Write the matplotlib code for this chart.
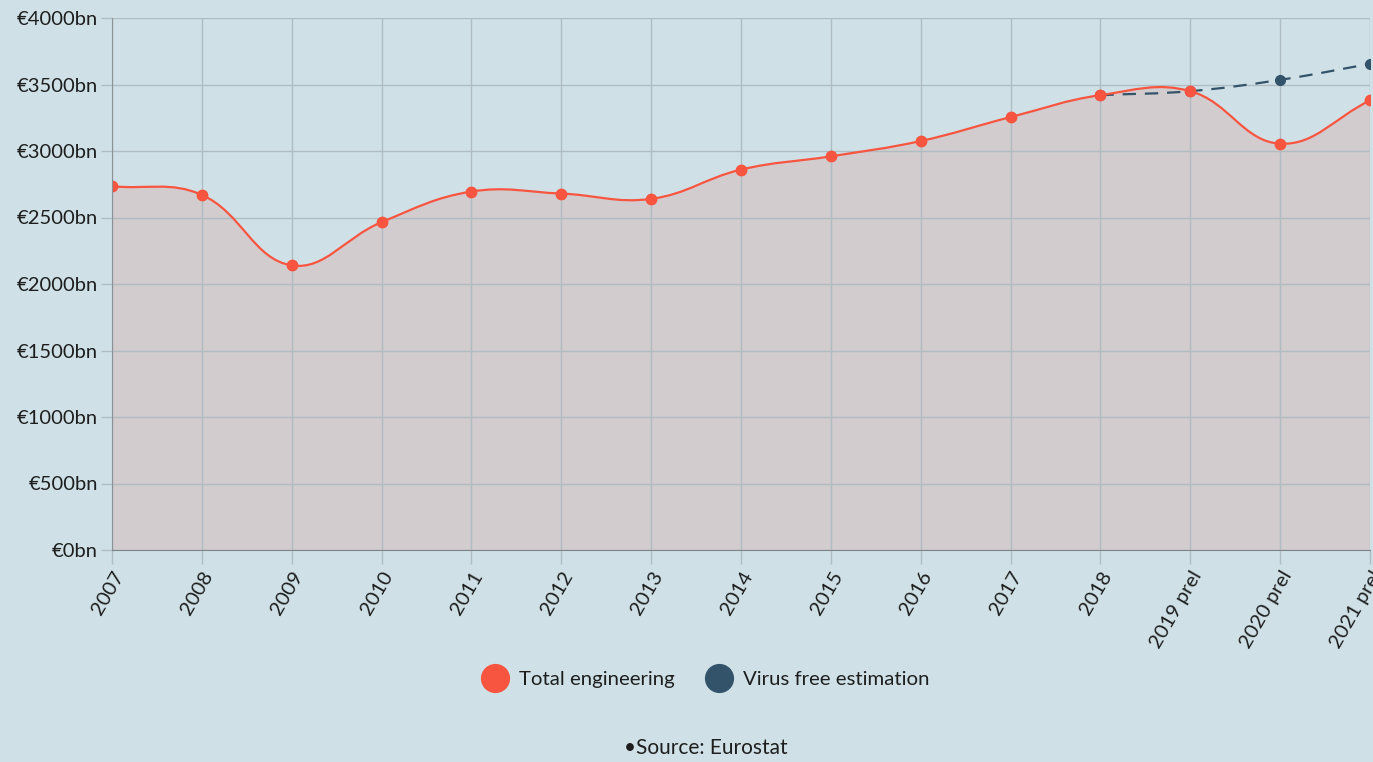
import numpy as np
import matplotlib.pyplot as plt
from matplotlib.path import Path
from matplotlib.patches import PathPatch
from matplotlib.lines import Line2D

plt.rcParams['font.family'] = ['Lato', 'DejaVu Sans']

# ------------------------------------------------------------
# data (EUR bn)
years = ['2007', '2008', '2009', '2010', '2011', '2012', '2013', '2014',
         '2015', '2016', '2017', '2018', '2019 prel', '2020 prel', '2021 prel']
total_engineering = [2735, 2670, 2140, 2465, 2695, 2680, 2640, 2860,
                     2960, 3075, 3255, 3420, 3450, 3055, 3380]
virus_free_years = ['2018', '2019 prel', '2020 prel', '2021 prel']
virus_free = [3420, 3450, 3535, 3655]
y_ticks = [0, 500, 1000, 1500, 2000, 2500, 3000, 3500, 4000]

BG = '#cfe1e7'
RED = '#f7553f'
DARK = '#33536a'
FILL = '#d3cccf'
GRID = '#afbcc2'
TXT = '#1e1e1e'

W, H = 1373, 762
fig = plt.figure(figsize=(W / 100, H / 100), dpi=100, facecolor=BG)
ax = fig.add_axes([112 / W, 1 - 550 / H, (1370 - 112) / W, (550 - 18) / H])
ax.set_facecolor(BG)
ax.set_xlim(0, len(years) - 1)
ax.set_ylim(0, 4000)

# pixel scale, used so the smoothing behaves like the original
sx = (1370 - 112) / (len(years) - 1)
sy = (550 - 18) / 4000.0


def spline_path(xs, ys, tension=0.4):
    """bezier path through the points, control points computed in pixel space"""
    px = np.asarray(xs, float) * sx
    py = np.asarray(ys, float) * sy
    n = len(px)
    cp_prev, cp_next = [], []
    for i in range(n):
        a = max(i - 1, 0)
        b = min(i + 1, n - 1)
        d01 = np.hypot(px[i] - px[a], py[i] - py[a])
        d12 = np.hypot(px[b] - px[i], py[b] - py[i])
        tot = d01 + d12
        s01 = d01 / tot if tot else 0
        s12 = d12 / tot if tot else 0
        dx, dy = px[b] - px[a], py[b] - py[a]
        cp_prev.append((px[i] - tension * s01 * dx, py[i] - tension * s01 * dy))
        cp_next.append((px[i] + tension * s12 * dx, py[i] + tension * s12 * dy))
    verts = [(px[0], py[0])]
    codes = [Path.MOVETO]
    for i in range(1, n):
        verts += [cp_next[i - 1], cp_prev[i], (px[i], py[i])]
        codes += [Path.CURVE4] * 3
    verts = [(vx / sx, vy / sy) for vx, vy in verts]
    return verts, codes


x_tot = np.arange(len(years))
x_vf = np.array([years.index(y) for y in virus_free_years])

verts, codes = spline_path(x_tot, total_engineering)

# filled area under the total engineering curve
fill_verts = verts + [(x_tot[-1], 0), (x_tot[0], 0), verts[0]]
fill_codes = codes + [Path.LINETO, Path.LINETO, Path.CLOSEPOLY]
ax.add_patch(PathPatch(Path(fill_verts, fill_codes), facecolor=FILL,
                       edgecolor='none', zorder=1))

# grid on top of the fill
for yt in y_ticks:
    ax.axhline(yt, color=GRID, lw=1, zorder=2)
for xt in x_tot:
    ax.axvline(xt, color=GRID, lw=1, zorder=2)

# virus free estimation (dashed)
vf_verts, vf_codes = spline_path(x_vf, virus_free)
ax.add_patch(PathPatch(Path(vf_verts, vf_codes), facecolor='none', edgecolor=DARK,
                       lw=1.6, linestyle=(0, (6, 4)), zorder=3))
ax.plot(x_vf, virus_free, 'o', color=DARK, ms=7, zorder=3)

# total engineering line
ax.add_patch(PathPatch(Path(verts, codes), facecolor='none', edgecolor=RED,
                       lw=1.6, zorder=4))
ax.plot(x_tot, total_engineering, 'o', color=RED, ms=7.5, zorder=5)

# axes styling
for s in ['top', 'right']:
    ax.spines[s].set_visible(False)
ax.spines['left'].set_color('#8a9296')
ax.spines['bottom'].set_color('#7d8488')
ax.spines['left'].set_zorder(6)
ax.spines['bottom'].set_zorder(6)

ax.set_yticks(y_ticks)
ax.set_yticklabels(['€%dbn' % v for v in y_ticks])
ax.set_xticks(x_tot)
ax.set_xticklabels(years, rotation=60, ha='right', va='top', rotation_mode='anchor')
ax.tick_params(axis='y', length=8, width=1, color=GRID, labelsize=14.5,
               labelcolor=TXT, pad=2)
ax.tick_params(axis='x', length=10, width=1, color=GRID, labelsize=14.5,
               labelcolor=TXT, pad=3)

# legend
handles = [Line2D([], [], ls='none', marker='o', ms=20, color=RED),
           Line2D([], [], ls='none', marker='o', ms=20, color=DARK)]
fig.legend(handles, ['Total engineering', 'Virus free estimation'], ncol=2,
           loc='center', bbox_to_anchor=(705 / W, 1 - 679 / H), frameon=False,
           fontsize=14.7, handlelength=1.4, handletextpad=0.45,
           columnspacing=1.5, labelcolor=TXT)

fig.text(706 / W, 1 - 748 / H, '•Source: Eurostat', ha='center', va='center',
         fontsize=15, color=TXT)

fig.savefig('out.png', dpi=100, facecolor=BG)
